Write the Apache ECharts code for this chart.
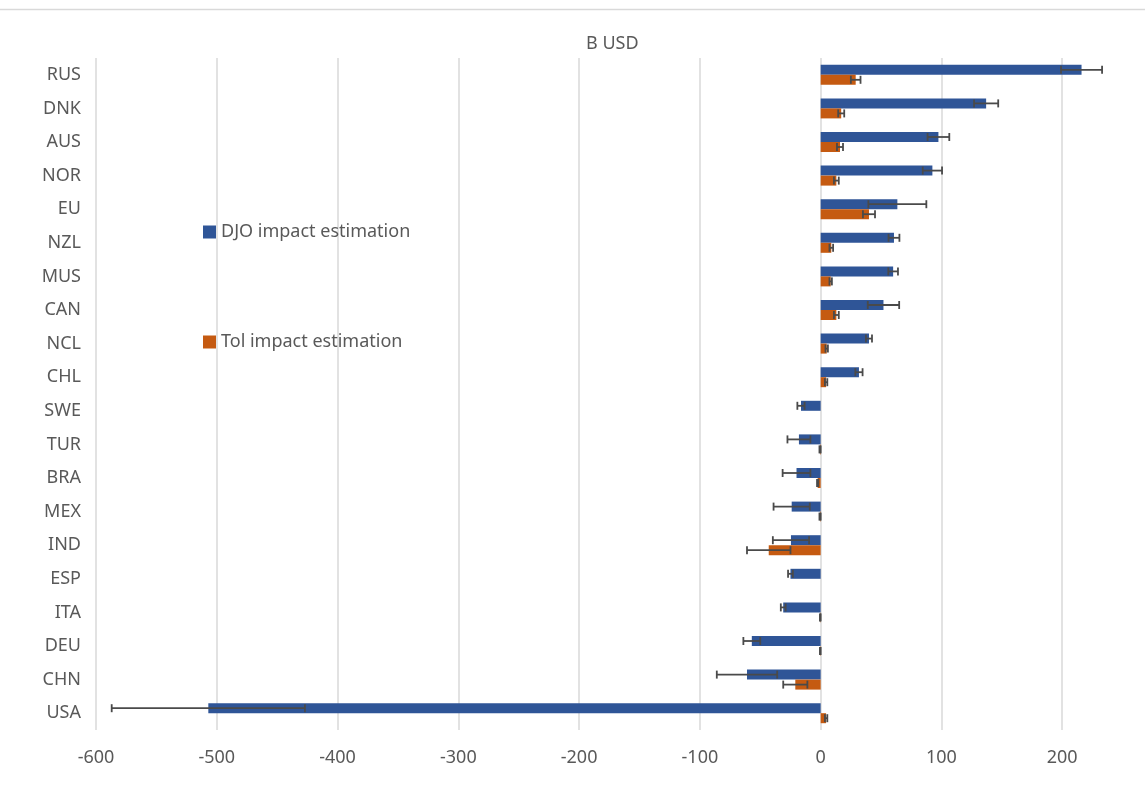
<!DOCTYPE html>
<html>
<head>
<meta charset="utf-8">
<title>B USD</title>
<script src="https://cdn.jsdelivr.net/npm/echarts@6/dist/echarts.min.js"></script>
<style>
  html, body { margin: 0; padding: 0; background: #fff; }
  #chart { width: 1145px; height: 797px; }
</style>
</head>
<body>
<div id="chart"></div>
<script>
/* 数据 */
var countries = ['RUS', 'DNK', 'AUS', 'NOR', 'EU', 'NZL', 'MUS', 'CAN', 'NCL', 'CHL',
  'SWE', 'TUR', 'BRA', 'MEX', 'IND', 'ESP', 'ITA', 'DEU', 'CHN', 'USA'];
var djoValues = [216, 137, 97.5, 92.5, 63.5, 60.7, 60, 52, 40, 31.7,
  -16.3, -18, -20, -24, -24.6, -25, -31, -57, -61, -507];
var djoErrors = [17, 10, 9, 8, 24, 4.5, 4, 13, 2.5, 3,
  3, 9.5, 11.5, 15, 15, 2, 2, 7, 25, 80];
var tolValues = [29, 17, 16, 13, 40, 8.8, 8.3, 13, 5, 4.5,
  0, -0.5, -2.5, -0.5, -43, 0, -0.3, -0.3, -21, 4.5];
var tolErrors = [4, 2.5, 2.5, 2, 5, 1.5, 1, 2, 1, 1,
  0, 0.5, 0.5, 0.5, 18, 0, 0.3, 0.3, 10, 1];
var xTicks = { min: -600, max: 300, interval: 100 };

(function () {
  var myChart = echarts.init(document.getElementById('chart'));
  var font = "'Noto Sans', 'Open Sans', sans-serif";
  var textColor = '#595959';
  var barW = 10;

  // 误差线数据: [值, 类目序号, 误差, 上/下(-1/1)]
  var errData = [];
  countries.forEach(function (c, i) {
    errData.push([djoValues[i], i, djoErrors[i], -1]);
    errData.push([tolValues[i], i, tolErrors[i], 1]);
  });

  function renderError(params, api) {
    var v = api.value(0), cat = api.value(1), e = api.value(2), side = api.value(3);
    if (!e) return;
    var lo = api.coord([v - e, cat]);
    var hi = api.coord([v + e, cat]);
    var y = lo[1] + side * barW / 2;
    var cap = 4;
    var st = { stroke: '#4a4a4a', lineWidth: 1.8 };
    return {
      type: 'group',
      children: [
        { type: 'line', shape: { x1: lo[0], y1: y, x2: hi[0], y2: y }, style: st },
        { type: 'line', shape: { x1: lo[0], y1: y - cap, x2: lo[0], y2: y + cap }, style: st },
        { type: 'line', shape: { x1: hi[0], y1: y - cap, x2: hi[0], y2: y + cap }, style: st }
      ]
    };
  }

  var option = {
    animation: false,
    backgroundColor: '#fff',
    textStyle: { fontFamily: font },
    title: {
      text: 'B USD',
      left: 581,
      top: 30,
      textStyle: { fontFamily: font, fontSize: 18, fontWeight: 'normal', color: textColor }
    },
    graphic: [{
      type: 'line',
      shape: { x1: 0, y1: 9.5, x2: 1145, y2: 9.5 },
      style: { stroke: '#d9d9d9', lineWidth: 1.5 }
    }],
    legend: {
      orient: 'vertical',
      left: 198,
      top: 218,
      icon: 'rect',
      itemWidth: 13,
      itemHeight: 13,
      itemGap: 92,
      data: ['DJO impact estimation', 'Tol impact estimation'],
      textStyle: { fontFamily: font, fontSize: 18, color: textColor }
    },
    grid: { left: 96, right: -38, top: 58, bottom: 67, outerBoundsMode: 'none' },
    xAxis: {
      type: 'value',
      min: xTicks.min,
      max: xTicks.max,
      interval: xTicks.interval,
      axisLine: { show: false },
      axisTick: { show: false },
      axisLabel: { fontFamily: font, fontSize: 18, color: textColor, margin: 19 },
      splitLine: { lineStyle: { color: '#d9d9d9', width: 1.5 } }
    },
    yAxis: {
      type: 'category',
      data: countries,
      inverse: true,
      axisLine: { show: false },
      axisTick: { show: false },
      axisLabel: { fontFamily: font, fontSize: 18, color: textColor, margin: 15 }
    },
    series: [
      {
        name: 'DJO impact estimation',
        type: 'bar',
        data: djoValues,
        barWidth: barW,
        barGap: '0%',
        itemStyle: { color: '#2f5597' }
      },
      {
        name: 'Tol impact estimation',
        type: 'bar',
        data: tolValues,
        barWidth: barW,
        barGap: '0%',
        itemStyle: { color: '#c55a11' }
      },
      {
        name: 'error',
        type: 'custom',
        renderItem: renderError,
        data: errData,
        encode: { x: 0, y: 1 },
        z: 5,
        silent: true
      }
    ]
  };
  myChart.setOption(option);
  window.addEventListener('resize', function () {
    myChart.resize();
  });
})();
</script>
</body>
</html>
